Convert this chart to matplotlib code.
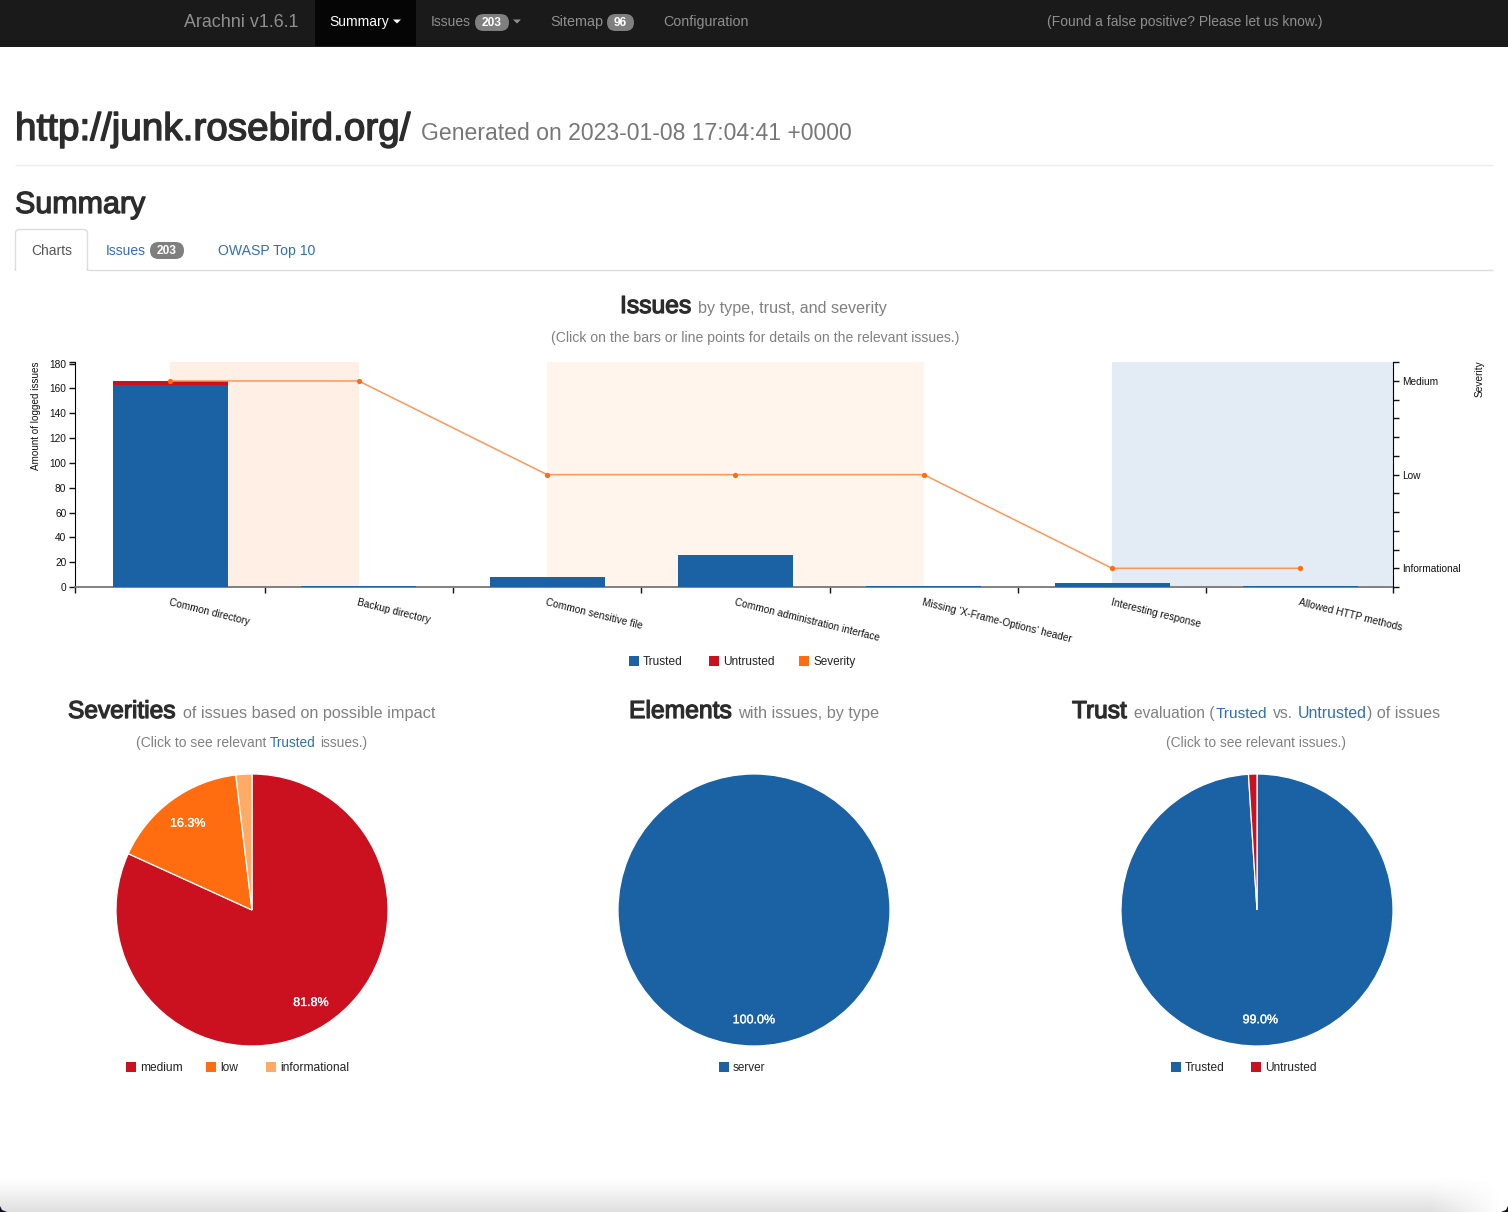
import numpy as np
import matplotlib
matplotlib.use("Agg")
import matplotlib.pyplot as plt
from matplotlib.patches import Rectangle, FancyBboxPatch, Polygon
from matplotlib import patheffects as pe

# ---- data ----
categories = ["Common directory", "Backup directory", "Common sensitive file",
              "Common administration interface", "Missing 'X-Frame-Options' header",
              "Interesting response", "Allowed HTTP methods"]
trusted = [163, 1, 8, 26, 1, 3, 1]
untrusted = [3, 0, 0, 0, 0, 0, 0]
severity = [3, 3, 2, 2, 2, 1, 1]
severity_names = ["Informational", "Low", "Medium"]
severities_labels = ["medium", "low", "informational"]
severities_pct = [81.8, 16.3, 1.9]
elements_labels = ["server"]
elements_pct = [100.0]
trust_labels = ["Trusted", "Untrusted"]
trust_pct = [99.0, 1.0]

BLUE, RED, ORANGE, LIGHT = "#1b62a5", "#cb111f", "#ff6d10", "#ffab66"
DARK, GREY, LINK = "#2c2c2c", "#808080", "#2f6fb3"
W, H = 1508, 1212

plt.rcParams["font.family"] = ["Liberation Sans", "DejaVu Sans"]
fig = plt.figure(figsize=(W / 100, H / 100), dpi=100, facecolor="white")
rend = fig.canvas.get_renderer()

ui = fig.add_axes([0, 0, 1, 1], zorder=0)
ui.set_xlim(0, W); ui.set_ylim(H, 0); ui.axis("off")


def fit(t, width):
    bb = t.get_window_extent(rend)
    t.set_fontsize(t.get_fontsize() * width / bb.width)
    return t


def T(x0, x1, y, s, color=DARK, heavy=0.0, weight="normal", z=5):
    t = ui.text(x0, y, s, color=color, fontsize=10, va="baseline", ha="left", weight=weight, zorder=z)
    fit(t, x1 - x0)
    if heavy:
        t.set_path_effects([pe.withStroke(linewidth=heavy, foreground=color)])
    return t


def badge(x0, x1, y0, y1, s, bg="#7f7f7f"):
    r = (y1 - y0) / 2
    ui.add_patch(FancyBboxPatch((x0, y0), x1 - x0, y1 - y0,
                                boxstyle=f"round,pad=0,rounding_size={r}", fc=bg, ec="none", lw=0, zorder=3))
    ui.text((x0 + x1) / 2, (y0 + y1) / 2 + 0.5, s, color="white", fontsize=8.6, weight="bold",
            ha="center", va="center", zorder=5)


def caret(x0, x1, y, color):
    ui.add_patch(Polygon([(x0, y), (x1, y), ((x0 + x1) / 2, y + 4)], fc=color, ec="none", zorder=4))


# ---- navigation bar ----
ui.add_patch(Rectangle((0, 0), W, 47, fc="#1a1a1a", ec="none", zorder=1))
ui.add_patch(Rectangle((315, 0), 101, 46, fc="#050505", ec="none", zorder=2))
NAV = "#8f8f8f"
T(184, 298, 27, "Arachni v1.6.1", NAV)
T(329, 389, 26, "Summary", "white")
caret(393, 401, 19.5, "white")
T(431, 471, 26, "Issues", NAV)
badge(475, 509, 14, 31, "203")
caret(513, 521, 19.5, NAV)
T(550, 603, 26, "Sitemap", NAV)
badge(607, 634, 14, 31, "96")
T(663, 748, 26, "Configuration", NAV)
T(1047, 1323, 26, "(Found a false positive? Please let us know.)", NAV)

# ---- page heading ----
T(15, 411, 140, "http://junk.rosebird.org/", DARK, heavy=1.0)
T(421, 854, 140, "Generated on 2023-01-08 17:04:41 +0000", "#777777")
ui.plot([15, 1493], [165, 165], color="#eeeeee", lw=1, zorder=2, solid_capstyle="butt")
T(15, 146, 213, "Summary", DARK, heavy=0.9)

# ---- tabs ----
ui.plot([15, 1493], [270.3, 270.3], color="#dddddd", lw=1, zorder=2, solid_capstyle="butt")
ui.add_patch(FancyBboxPatch((15.5, 229.5), 72, 50, boxstyle="round,pad=0,rounding_size=4",
                            fc="white", ec="#dddddd", lw=1, zorder=3))
ui.add_patch(Rectangle((14, 271), 76, 12, fc="white", ec="none", zorder=4))
T(31, 72, 255, "Charts", "#555555")
T(106, 146, 255, "Issues", LINK)
badge(150, 184, 242, 259, "203")
T(218, 315, 255, "OWASP Top 10", LINK)

# ---- section titles ----
T(620, 691, 313, "Issues", DARK, heavy=0.9)
T(698, 887, 313, "by type, trust, and severity", GREY)
T(551, 957, 342, "(Click on the bars or line points for details on the relevant issues.)", GREY)
T(68, 176, 718, "Severities", DARK, heavy=0.9)
T(183, 435, 718, "of issues based on possible impact", GREY)
T(136, 266, 747, "(Click to see relevant", GREY)
T(270, 316, 747, "Trusted", LINK)
T(320, 367, 747, "issues.)", GREY)
T(629, 732, 718, "Elements", DARK, heavy=0.9)
T(738, 879, 718, "with issues, by type", GREY)
T(1072, 1127, 718, "Trust", DARK, heavy=0.9)
T(1134, 1215, 718, "evaluation (", GREY)
T(1216, 1268, 718, "Trusted", LINK)
T(1273, 1293, 718, "vs.", GREY)
T(1298, 1367, 718, "Untrusted", LINK)
T(1367, 1440, 718, ") of issues", GREY)
T(1166, 1347, 747, "(Click to see relevant issues.)", GREY)


# ---- legends ----
def legend(items, y):
    for sq, x0, x1, label, col in items:
        ui.add_patch(Rectangle((sq, y - 5), 10, 10, fc=col, ec="none", zorder=4))
        T(x0, x1, y + 4, label, "#222222")


legend([(629, 643, 683, "Trusted", BLUE), (709, 723, 775, "Untrusted", RED), (799, 813, 856, "Severity", ORANGE)], 661)
legend([(126, 140, 183, severities_labels[0], RED), (206, 220, 238, severities_labels[1], ORANGE),
        (266, 280, 349, severities_labels[2], LIGHT)], 1067)
legend([(719, 733, 766, elements_labels[0], BLUE)], 1067)
legend([(1171, 1185, 1225, trust_labels[0], BLUE), (1251, 1265, 1317, trust_labels[1], RED)], 1067)

# ---- combined chart ----
L, R, TOP, BOT = 75.4, 1393.4, 361.7, 587
X0, XR = -0.505, 6.494
ax = fig.add_axes([L / W, 1 - BOT / H, (R - L) / W, (BOT - TOP) / H], zorder=2)
ax.patch.set_alpha(0)
x = np.arange(len(categories))
ax.axvspan(0, 1, color="#ffefe4", lw=0, zorder=0)
ax.axvspan(2, 4, color="#fff5ed", lw=0, zorder=0)
ax.axvspan(5, XR, color="#e3ebf4", lw=0, zorder=0)
ax.bar(x, trusted, width=0.611, color=BLUE, zorder=3)
ax.bar(x, untrusted, width=0.611, bottom=trusted, color=RED, zorder=3)
ax.set_xlim(X0, XR)
ax.set_ylim(0, 181.6)
ax.set_yticks(np.arange(0, 181, 20))
ax.set_yticks([181.6], minor=True)
ax.set_xticks([X0, 0.5, 1.5, 2.5, 3.5, 4.5, 5.5, XR])
ax.set_xticklabels([])
ax.set_xticks(x, categories, minor=True, rotation=-14, ha="left", va="top", rotation_mode="anchor", fontsize=7.25)
ax.tick_params(axis="x", which="minor", length=0, pad=7.5, colors="#111111")
ax.tick_params(axis="x", which="major", length=4.3, width=1, color="#111111")
ax.tick_params(axis="y", which="both", length=4.3, width=1, labelsize=7.3, pad=2.2, colors="#111111")
for s in ("top", "right"):
    ax.spines[s].set_visible(False)
ax.spines["left"].set_color("#000000")
ax.spines["bottom"].set_color("#777777")
ax.spines["bottom"].set_linewidth(1.3)
ax.set_ylabel("Amount of logged issues", loc="top", fontsize=7.1, color="#111111")
ax.yaxis.set_label_coords((41.5 - L) / (R - L), 1.0)

sev = ax.twinx()
sev.set_zorder(3)
sev.patch.set_alpha(0)
sev.plot(x, severity, color="#ff9150", lw=1.1, alpha=0.95, zorder=3)
sev.plot(x, severity, ls="none", marker="o", ms=3.8, mec="none", color=ORANGE, zorder=4)
sev.set_ylim(0.8, 3.206)
sev.set_yticks([1, 2, 3], severity_names)
sev.set_yticks([0.8, 1.2, 1.4, 1.6, 1.8, 2.2, 2.4, 2.6, 2.8, 3.2], minor=True)
sev.tick_params(axis="y", which="both", length=4.3, width=1, labelsize=7.3, pad=2.2, colors="#111111")
for s in ("top", "left", "bottom"):
    sev.spines[s].set_visible(False)
sev.spines["right"].set_color("#000000")
sev.set_ylabel("Severity", loc="top", fontsize=7.3, color="#111111")
sev.yaxis.set_label_coords((1475 - L) / (R - L), 1.005)


# ---- pies ----
def pie(cx, values, colors):
    r = 136
    a = fig.add_axes([(cx - r) / W, 1 - (910 + r) / H, 2 * r / W, 2 * r / H], zorder=2)
    _, _, auto = a.pie(values, colors=colors, startangle=90, counterclock=False, radius=1,
                       wedgeprops=dict(edgecolor="white", linewidth=0.9),
                       autopct=lambda p: f"{p:.1f}%" if p > 5 else "", pctdistance=0.8,
                       textprops=dict(color="white", fontsize=9))
    for t in auto:
        t.set_y(t.get_position()[1] - 0.011)
        t.set_path_effects([pe.withStroke(linewidth=0.2, foreground="white")])
    a.set_xlim(-1.0, 1.0); a.set_ylim(-1.0, 1.0)


pie(252, severities_pct, [RED, ORANGE, LIGHT])
pie(754, elements_pct, [BLUE])
pie(1257, trust_pct, [BLUE, RED])

# ---- window shadow at the bottom ----
ramp_y = np.clip((np.arange(1176, H) - 1176) / (H - 1176), 0, 1) ** 1.3
ramp_x = np.clip((1500 - np.arange(W)) / 70, 0, 1)
shade = np.zeros((H - 1176, W, 4))
shade[..., :3] = 0.5
shade[..., 3] = np.outer(ramp_y, ramp_x) * 0.26
ui.imshow(shade, extent=(0, W, H, 1176), aspect="auto", zorder=1, interpolation="bilinear")
ui.set_xlim(0, W); ui.set_ylim(H, 0)
ui.add_patch(Polygon([(W, H), (W, H - 6), (W - 2, H - 2), (W - 7, H)], fc="#0d0a24", ec="none", zorder=6))
ui.add_patch(Polygon([(0, H), (0, H - 6), (2, H - 2), (7, H)], fc="#0d0a24", ec="none", zorder=6))

fig.savefig("out.png", dpi=100, facecolor="white")
